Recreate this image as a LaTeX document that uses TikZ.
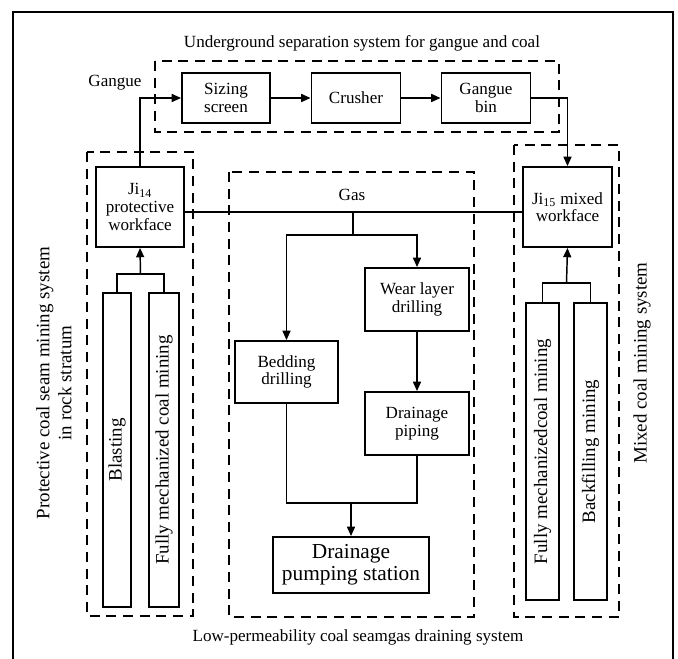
\documentclass[tikz,border=0pt]{standalone}
\usepackage{fontspec}
\setmainfont{Liberation Serif}
\usetikzlibrary{arrows.meta, positioning, calc}
\newcommand\flowtext{\fontsize{12.8}{13.2}\selectfont}
\newcommand\sidetext{\fontsize{14.2}{16.5}\selectfont}

\begin{document}
\begin{tikzpicture}[x=0.75pt, y=-0.75pt, on grid, node distance=97.5pt, line width=1.1pt,
    box/.style={draw, line width=1.4pt, inner sep=0pt, align=center, font=\flowtext},
    bar/.style={draw, line width=1.4pt, inner sep=0pt, rotate=90, font=\sidetext},
    group/.style={draw, line width=1.3pt, dash pattern=on 7.5pt off 5pt},
    arr/.style={-{Triangle[length=7pt, width=6pt]}}]
    \useasboundingbox (0,0) rectangle (678,659);
    \draw[line width=2.2pt] (13,659) -- (13,12) -- (673,12) -- (673,659);

    % separation system
		\node[box, minimum width=66pt, minimum height=37.5pt] (screen) at (226,98) {Sizing\\screen};
		\node[box, minimum width=66.75pt, minimum height=37.5pt] (crusher) [right=of screen] {Crusher};
		\node[box, minimum width=66.75pt, minimum height=37.5pt] (bin) [right=of crusher] {Gangue\\bin};

    % workfaces
		\node[box, minimum width=66pt, minimum height=60pt] (ji14) at (140,207) {Ji\textsubscript{14}\\protective\\workface};
		\node[box, minimum width=66.75pt, minimum height=60pt] (ji15) at (567.5,207) {Ji\textsubscript{15} mixed\\workface};

    % gas draining
		\node[box, minimum width=77.25pt, minimum height=46.5pt] (bed) at (286.5,372) {Bedding\\drilling};
		\node[box, minimum width=78pt, minimum height=47.25pt] (wear) at (417,299.5) {Wear layer\\drilling};
		\node[box, minimum width=78pt, minimum height=47.25pt] (pipe) [below=93pt of wear] {Drainage\\piping};
		\node[box, minimum width=117pt, minimum height=42pt, font=\fontsize{16}{16.5}\selectfont] (pump) at (351,565) {Drainage\\pumping station};

    % mining methods
		\node[bar, minimum width=235.5pt, minimum height=21pt] (blast) at (117,450) {Blasting};
		\node[bar, minimum width=235.5pt, minimum height=22.5pt] (mechL) [right=35.25pt of blast] {Fully mechanized coal mining};
		\node[bar, minimum width=222.75pt, minimum height=24.75pt] (mechR) at (542.5,451.5) {Fully mechanizedcoal mining};
		\node[bar, minimum width=222.75pt, minimum height=24.75pt] (fill) [right=36pt of mechR] {Backfilling mining};

    % labels
    \node[font=\flowtext] (title) at (362,43) {Underground separation system for gangue and coal};
    \node[font=\flowtext] (gangue) at (115,83) {Gangue};
    \node[font=\flowtext] (gas) at (352,195) {Gas};
    \node[font=\flowtext] (low) at (358,637) {Low-permeability coal seamgas draining system};
    \node[font=\sidetext, rotate=90, align=center] (prot) at (54,383) {Protective coal seam mining system\\in rock stratum};
    \node[font=\sidetext, rotate=90] (mixed) at (642,363) {Mixed coal mining system};

    % dashed systems
    \draw[group] (155,61) rectangle (559,132);
    \draw[group] (87,152) rectangle (193,616);
    \draw[group] (229,172) rectangle (474,617);
    \draw[group] (514,145) rectangle (619,617);

    % connectors
    \coordinate (gsrc) at (353,212);
    \coordinate (gsplit) at (353,235);
    \coordinate (jL) at ($(blast.east)!.5!(mechL.east)+(0,-18)$);
    \coordinate (jR) at ($(mechR.east)!.5!(fill.east)+(0,-19)$);
    \coordinate (jB) at (pump.north |- 0,503);
    \path[arr]
      (screen) edge (crusher)
      (crusher) edge (bin)
      (wear) edge (pipe);
    \draw[arr] (ji14.north) |- (screen.west);
    \draw[arr] (bin.east) -| (ji15.north);
    \draw (ji14.east |- gsrc) -- (ji15.west |- gsrc);
    \draw (gsrc) -- (gsplit);
    \draw[arr] (gsplit) -| (bed.north);
    \draw[arr] (gsplit) -| (wear.north);
    \draw (bed.south) |- (jB -| pipe.south) -- (pipe.south);
    \draw[arr] (jB) -- (pump.north);
    \draw (blast.east) |- (jL) -| (mechL.east);
    \draw[arr] (jL) -- (ji14.south);
    \draw (mechR.east) |- (jR) -| (fill.east);
    \draw[arr] (jR) -- (ji15.south);
    \end{tikzpicture}
\end{document}
